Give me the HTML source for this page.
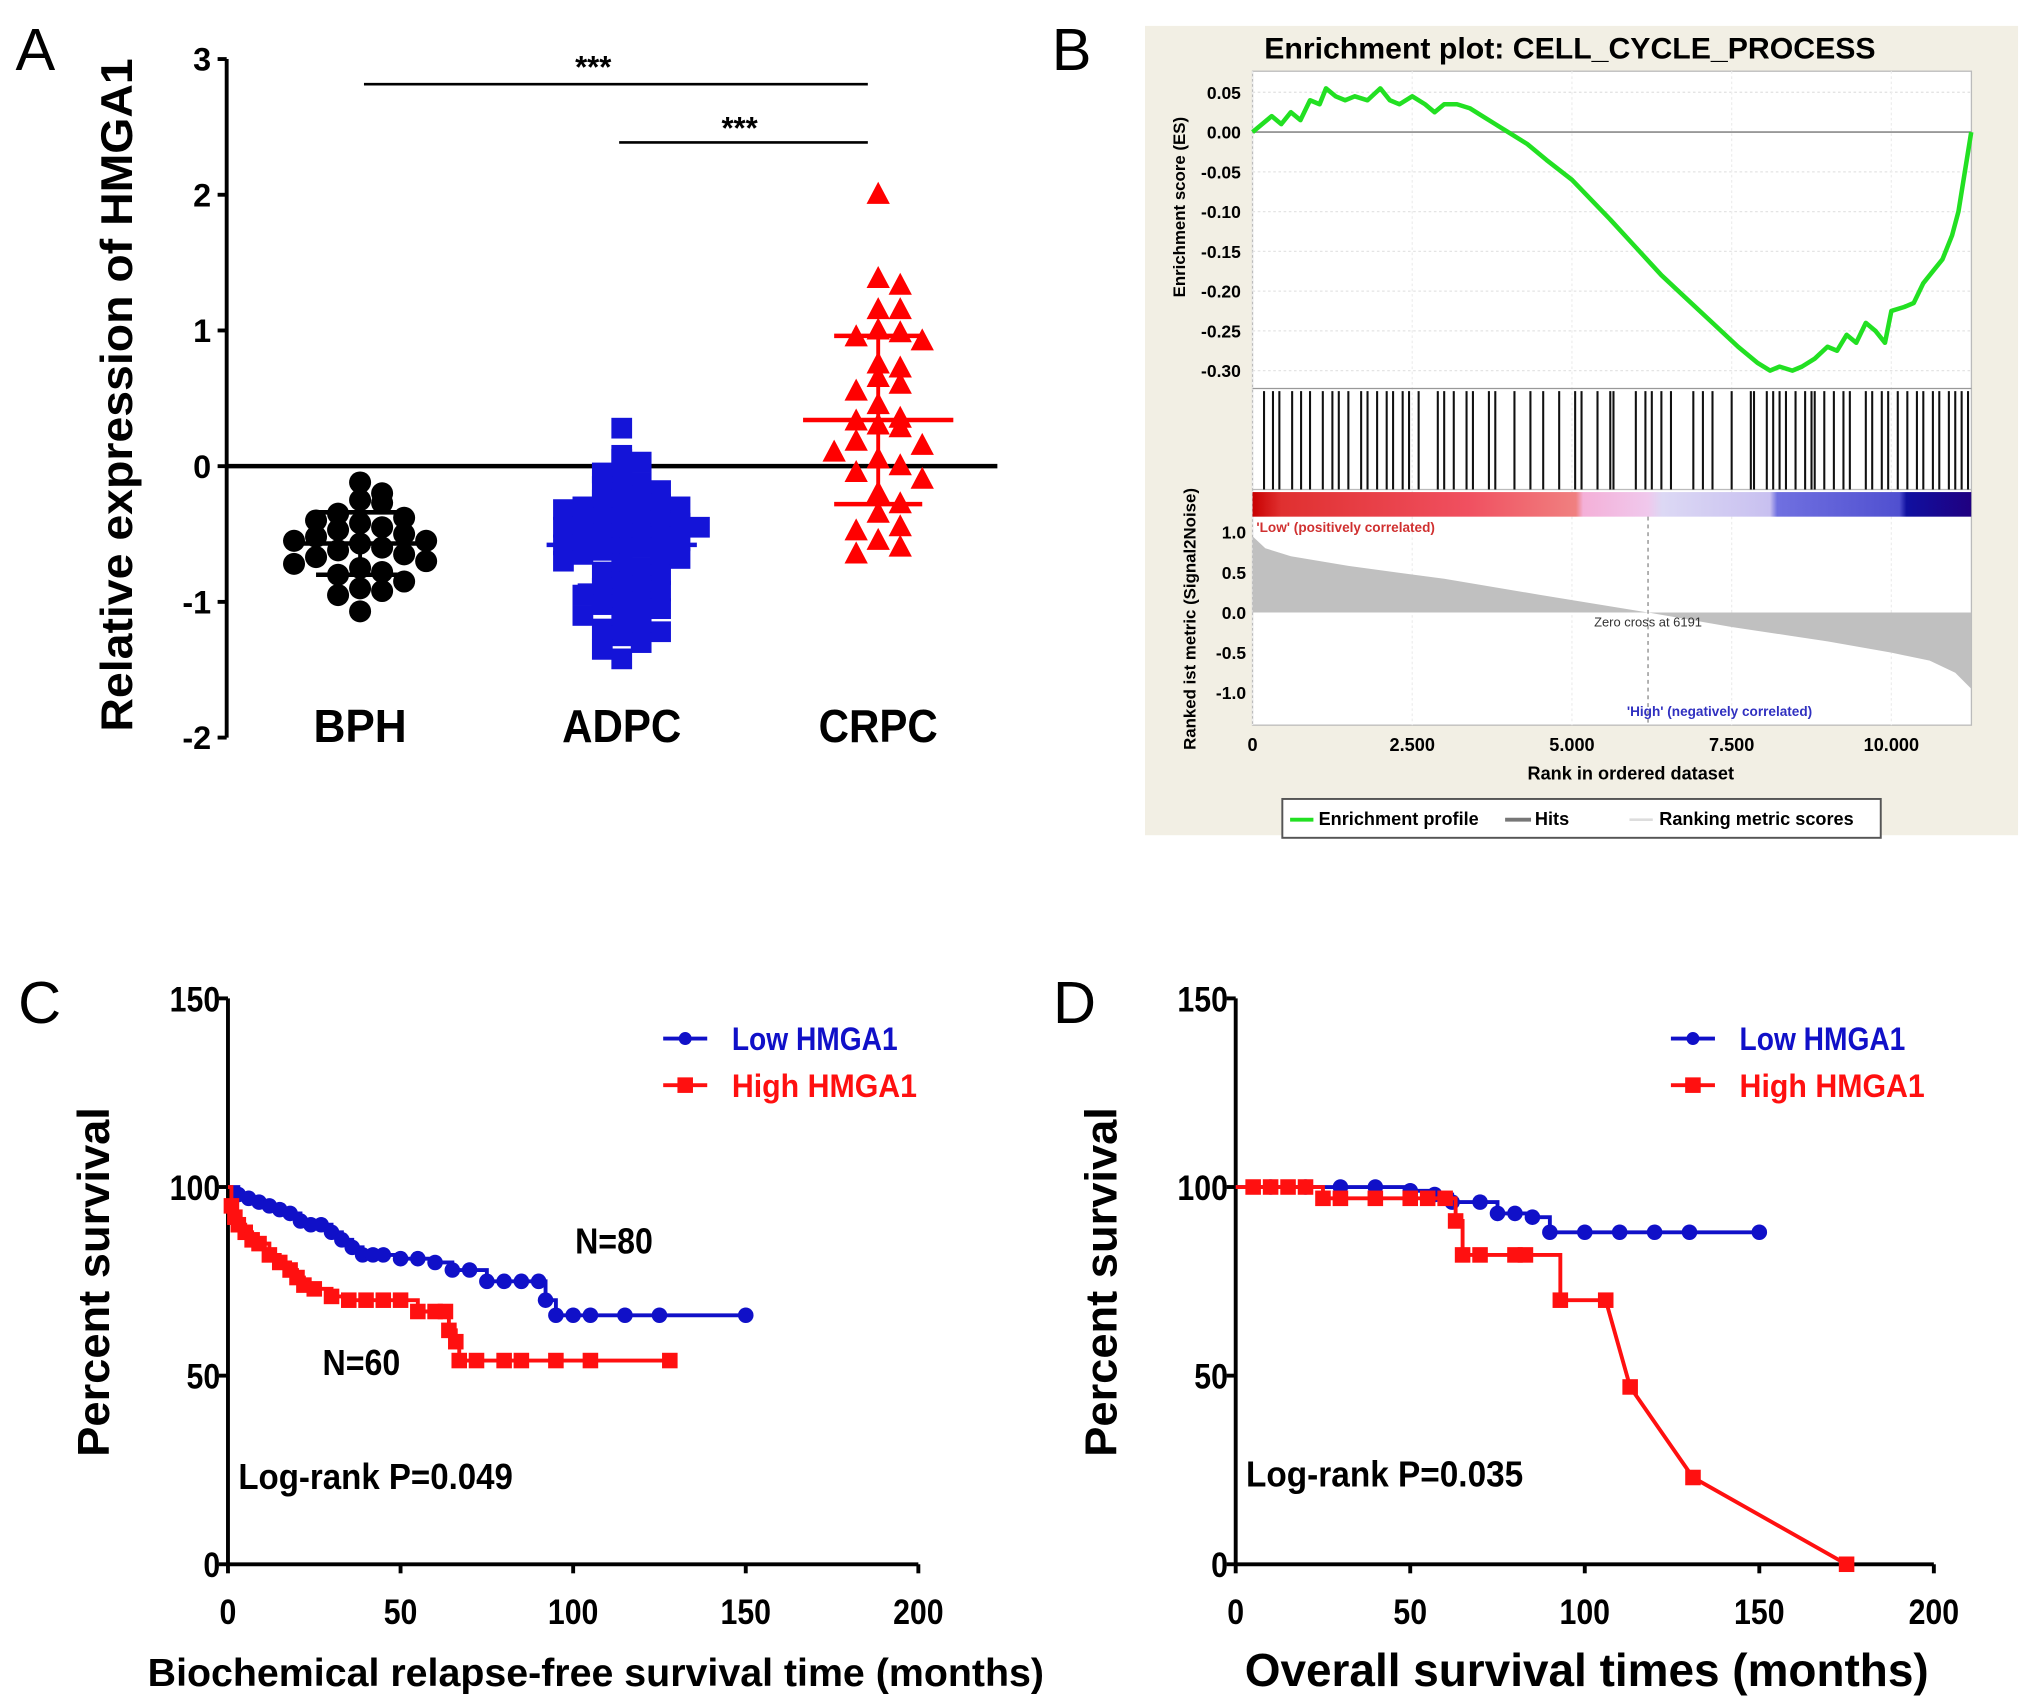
<!DOCTYPE html>
<html><head><meta charset="utf-8"><style>
html,body{margin:0;padding:0;background:#fff}
svg{display:block}
text{font-family:"Liberation Sans",sans-serif;font-weight:bold}
text.plain{font-weight:normal}
</style></head><body>
<svg id="fig" width="2031" height="1708" viewBox="0 0 1568 1319" preserveAspectRatio="none" xmlns="http://www.w3.org/2000/svg">
<defs>
<linearGradient id="cbar" x1="0" x2="1" y1="0" y2="0">
<stop offset="0" stop-color="#c80000"/><stop offset="0.04" stop-color="#e03030"/><stop offset="0.3" stop-color="#f05060"/><stop offset="0.45" stop-color="#f08080"/><stop offset="0.46" stop-color="#f4b0d8"/><stop offset="0.55" stop-color="#f0c8ec"/><stop offset="0.57" stop-color="#dcd8f4"/><stop offset="0.72" stop-color="#c8c0f0"/><stop offset="0.73" stop-color="#7070e0"/><stop offset="0.9" stop-color="#5050d0"/><stop offset="0.91" stop-color="#1010a0"/><stop offset="1" stop-color="#200080"/>
</linearGradient>
</defs>
<g id="pa"></g>
<g id="pb"></g>
<g id="pc"></g>
<g id="pd"></g>
</svg>
<script>
// ---------- Panel A data ----------
const groupNames = ["BPH","ADPC","CRPC"];
const bphValues = [-0.12,-0.2,-0.25,-0.27,-0.35,-0.38,-0.4,-0.42,-0.45,-0.47,-0.5,-0.52,-0.55,-0.55,-0.57,-0.6,-0.62,-0.65,-0.67,-0.7,-0.72,-0.75,-0.78,-0.8,-0.85,-0.9,-0.92,-0.95,-1.07];
const adpcValues = [0.28,0.08,0.05,0.03,-0.05,-0.1,-0.12,-0.15,-0.18,-0.2,-0.22,-0.25,-0.28,-0.3,-0.3,-0.32,-0.35,-0.35,-0.38,-0.4,-0.4,-0.42,-0.45,-0.45,-0.48,-0.5,-0.5,-0.52,-0.55,-0.55,-0.58,-0.6,-0.6,-0.62,-0.65,-0.65,-0.68,-0.7,-0.72,-0.75,-0.78,-0.8,-0.85,-0.88,-0.9,-0.92,-0.95,-0.98,-1.0,-1.02,-1.05,-1.1,-1.12,-1.15,-1.2,-1.22,-1.25,-1.3,-1.35,-1.42];
const crpcValues = [2.0,1.38,1.33,1.15,1.15,1.0,0.98,0.95,0.92,0.75,0.72,0.65,0.6,0.55,0.45,0.35,0.33,0.3,0.28,0.18,0.15,0.1,0.05,0.0,-0.05,-0.1,-0.2,-0.28,-0.35,-0.45,-0.48,-0.55,-0.6,-0.65];
const groupMeans = [-0.57,-0.58,0.34];
const groupSD = [0.23,0.3,0.62];
const aTicks = [3,2,1,0,-1,-2];
// ---------- Panel B data ----------
const esRank = [0,150,300,450,600,750,900,1050,1150,1300,1450,1600,1800,2000,2150,2300,2500,2700,2850,3000,3200,3400,3600,3800,4000,4300,4600,5000,5300,5600,6000,6400,6800,7200,7600,7900,8100,8250,8450,8600,8800,9000,9150,9300,9450,9600,9750,9900,10000,10200,10350,10500,10650,10800,10950,11050,11150,11250];
const esValue = [0,0.01,0.02,0.01,0.025,0.015,0.04,0.035,0.055,0.045,0.04,0.045,0.04,0.055,0.04,0.035,0.045,0.035,0.025,0.035,0.035,0.03,0.02,0.01,0,-0.015,-0.035,-0.06,-0.085,-0.11,-0.145,-0.18,-0.21,-0.24,-0.27,-0.29,-0.3,-0.295,-0.3,-0.295,-0.285,-0.27,-0.275,-0.255,-0.265,-0.24,-0.25,-0.265,-0.225,-0.22,-0.215,-0.19,-0.175,-0.16,-0.13,-0.1,-0.05,0];
const hitRanks = [180,320,420,620,760,900,1100,1250,1350,1500,1700,1800,1950,2100,2200,2350,2450,2600,2900,3000,3150,3350,3450,3700,3800,4100,4350,4550,4800,5050,5150,5400,5600,5650,6000,6150,6250,6400,6550,6900,7050,7200,7500,7800,7850,8050,8150,8250,8350,8500,8650,8750,8800,8950,9100,9250,9350,9600,9700,9850,9950,10100,10250,10400,10500,10650,10750,10900,11000,11100,11200];
const metricRank = [0,200,600,1500,3000,4500,6191,7500,9000,10000,10600,11000,11250];
const metricValue = [0.95,0.8,0.7,0.58,0.42,0.22,0,-0.18,-0.36,-0.5,-0.6,-0.75,-0.95];
const esTicks = [0.05,0,-0.05,-0.1,-0.15,-0.2,-0.25,-0.3];
const esTickLabels = ["0.05","0.00","-0.05","-0.10","-0.15","-0.20","-0.25","-0.30"];
const metricTicks = [1,0.5,0,-0.5,-1];
const metricTickLabels = ["1.0","0.5","0.0","-0.5","-1.0"];
const rankTicks = [0,2500,5000,7500,10000];
const rankTickLabels = ["0","2.500","5.000","7.500","10.000"];
// ---------- Panel C data ----------
const cLowT = [0,3,6,9,12,15,18,21,24,27,30,33,36,39,42,45,50,55,60,65,70,75,80,85,90,92,95,100,105,115,125,150];
const cLowS = [100,98,97,96,95,94,93,91,90,90,88,86,84,82,82,82,81,81,80,78,78,75,75,75,75,70,66,66,66,66,66,66];
const cHighT = [0,1,2,3,5,7,9,12,15,18,20,22,25,30,35,40,45,50,55,60,63,64,66,67,72,80,85,95,105,128];
const cHighS = [100,95,92,90,88,86,85,82,80,78,76,74,73,71,70,70,70,70,67,67,67,62,59,54,54,54,54,54,54,54];
// ---------- Panel D data ----------
const dLowT = [0,10,20,30,40,50,57,62,70,75,80,85,90,100,110,120,130,150];
const dLowS = [100,100,100,100,100,99,98,96,96,93,93,92,88,88,88,88,88,88];
const dHighT = [0,5,10,15,20,25,30,40,50,55,60,63,65,70,80,83,93,106,113,131,175];
const dHighS = [100,100,100,100,100,97,97,97,97,97,97,91,82,82,82,82,70,70,47,23,0];
const kmTicks = [0,50,100,150,200];
const kmYTicks = [0,50,100,150];

const NS="http://www.w3.org/2000/svg";
function mk(parent,tag,attrs,txt){const e=document.createElementNS(NS,tag);for(const k in attrs)e.setAttribute(k,attrs[k]);if(txt!==undefined)e.textContent=txt;parent.appendChild(e);return e;}

// ================= Panel A =================
(function(){
const g=document.getElementById('pa');
const yA=v=>360-v*104.8;
const xA=i=>[278,480,678][i];
let e=mk(g,'text',{x:12,y:54,'font-size':46,class:'plain'},'A');

e=mk(g,'line',{x1:175,y1:yA(3),x2:175,y2:yA(-2),stroke:'#000','stroke-width':3});

aTicks.forEach(t=>{
 mk(g,'line',{x1:168,y1:yA(t),x2:175,y2:yA(t),stroke:'#000','stroke-width':3});
 const tl=mk(g,'text',{x:163,y:yA(t)+9,'font-size':25,'text-anchor':'end'},String(t));
 
});
e=mk(g,'line',{x1:175,y1:yA(0),x2:770,y2:yA(0),stroke:'#000','stroke-width':3.5});

e=mk(g,'text',{x:0,y:0,'font-size':34,'text-anchor':'middle',transform:'translate(102,305) rotate(-90)',textLength:520,lengthAdjust:'spacingAndGlyphs'},'Relative expression of HMGA1');

groupNames.forEach((n,i)=>{
 const t=mk(g,'text',{x:xA(i),y:573,'font-size':36,'text-anchor':'middle',textLength:[72,92,92][i],lengthAdjust:'spacingAndGlyphs'},n);
 
});
e=mk(g,'line',{x1:281,y1:65,x2:670,y2:65,stroke:'#000','stroke-width':2});

e=mk(g,'text',{x:458,y:60,'font-size':24,'text-anchor':'middle'},'***');

e=mk(g,'line',{x1:478,y1:110,x2:670,y2:110,stroke:'#000','stroke-width':2});

e=mk(g,'text',{x:571,y:107,'font-size':24,'text-anchor':'middle'},'***');

const colors=['#000','#1414d8','#ff0000'];
const sets=[bphValues,adpcValues,crpcValues];
const binW=[0.16,0.13,0.2], step=[17,15,17];
sets.forEach((vals,gi)=>{
 const bins={};
 vals.forEach(v=>{
  const b=Math.round(v/binW[gi]);
  const k=bins[b]||0;bins[b]=k+1;
  const off=(k%2?1:-1)*Math.ceil(k/2)*step[gi];
  const cx=xA(gi)+off, cy=yA(v);
  let m;
  if(gi===0) m=mk(g,'circle',{cx:cx,cy:cy,r:8.5,fill:colors[0]});
  else if(gi===1) m=mk(g,'rect',{x:cx-8,y:cy-8,width:16,height:16,fill:colors[1]});
  else m=mk(g,'polygon',{points:`${cx},${cy-10} ${cx-9},${cy+7} ${cx+9},${cy+7}`,fill:colors[2]});
  
  
 });
 const mean=groupMeans[gi],sd=groupSD[gi],c=colors[gi],x=xA(gi);
 let l=mk(g,'line',{x1:x-58,y1:yA(mean),x2:x+58,y2:yA(mean),stroke:c,'stroke-width':3.5});
 
 l=mk(g,'line',{x1:x,y1:yA(mean+sd),x2:x,y2:yA(mean-sd),stroke:c,'stroke-width':3});
 
 [mean+sd,mean-sd].forEach(v=>{const cap=mk(g,'line',{x1:x-34,y1:yA(v),x2:x+34,y2:yA(v),stroke:c,'stroke-width':3.5});
  });
});
})();

// ================= Panel B =================
(function(){
const g=document.getElementById('pb');
let e=mk(g,'text',{x:812,y:54,'font-size':46,class:'plain'},'B');

e=mk(g,'rect',{x:884,y:20,width:674,height:625,fill:'#f2efe4'});

e=mk(g,'text',{x:1212,y:45,'font-size':23,'text-anchor':'middle',textLength:472,lengthAdjust:'spacingAndGlyphs'},'Enrichment plot: CELL_CYCLE_PROCESS');

const X=r=>967+r*123.3/2500;
const Y=v=>102-v*614;
const M=v=>473-v*62;
e=mk(g,'rect',{x:967,y:55,width:555,height:505,fill:'#fff',stroke:'#bbb','stroke-width':1});

esTicks.forEach((t,i)=>{
 mk(g,'line',{x1:967,y1:Y(t),x2:1522,y2:Y(t),stroke:t===0?'#999':'#e4e4e4','stroke-width':t===0?1.5:1,'stroke-dasharray':t===0?'':'2,2'});
 const tl=mk(g,'text',{x:958,y:Y(t)+5,'font-size':13.5,'text-anchor':'end'},esTickLabels[i]);
 
});
rankTicks.forEach((t,i)=>{
 mk(g,'line',{x1:X(t),y1:55,x2:X(t),y2:560,stroke:'#eee','stroke-width':1,'stroke-dasharray':'2,2'});
 const tl=mk(g,'text',{x:X(t),y:580,'font-size':14,'text-anchor':'middle'},rankTickLabels[i]);
 
});
mk(g,'line',{x1:967,y1:300,x2:1522,y2:300,stroke:'#999','stroke-width':1});
mk(g,'line',{x1:967,y1:378,x2:1522,y2:378,stroke:'#bbb','stroke-width':1});
e=mk(g,'text',{x:0,y:0,'font-size':13,'text-anchor':'middle',transform:'translate(915,160) rotate(-90)'},'Enrichment score (ES)');

e=mk(g,'text',{x:0,y:0,'font-size':13,'text-anchor':'middle',transform:'translate(923,478) rotate(-90)'},'Ranked ist metric (Signal2Noise)');

hitRanks.forEach(r=>{const h=mk(g,'line',{x1:X(r),y1:302,x2:X(r),y2:378,stroke:'#111','stroke-width':1.6});
 });
e=mk(g,'rect',{x:967,y:380,width:X(11250)-967,height:19,fill:'url(#cbar)'});

let d=`M${X(metricRank[0])},${M(0)}`;
metricRank.forEach((r,i)=>{d+=` L${X(r)},${M(metricValue[i])}`;});
d+=` L${X(metricRank[metricRank.length-1])},${M(0)} Z`;
e=mk(g,'path',{d:d,fill:'#c0c0c0'});

metricTicks.forEach((t,i)=>{
 const tl=mk(g,'text',{x:962,y:M(t)+5,'font-size':13.5,'text-anchor':'end'},metricTickLabels[i]);
 
});
mk(g,'line',{x1:X(6191),y1:399,x2:X(6191),y2:560,stroke:'#888','stroke-width':1,'stroke-dasharray':'3,3'});
e=mk(g,'text',{x:X(6191),y:484,'font-size':10,class:'plain','text-anchor':'middle',fill:'#333'},'Zero cross at 6191');

e=mk(g,'text',{x:970,y:411,'font-size':10.5,fill:'#d03030'},"'Low' (positively correlated)");

e=mk(g,'text',{x:1256,y:553,'font-size':10.5,fill:'#3030c0'},"'High' (negatively correlated)");

let p='';esRank.forEach((r,i)=>{p+=(i?' L':'M')+X(r)+','+Y(esValue[i]);});
e=mk(g,'path',{d:p,fill:'none',stroke:'#22e022','stroke-width':3.5,'stroke-linejoin':'round'});

e=mk(g,'text',{x:1259,y:602,'font-size':14,'text-anchor':'middle'},'Rank in ordered dataset');

const lg=mk(g,'g',{});
mk(lg,'rect',{x:990,y:617,width:462,height:30,fill:'#fff',stroke:'#555','stroke-width':1.5});
mk(lg,'line',{x1:996,y1:633,x2:1014,y2:633,stroke:'#22e022','stroke-width':3});
mk(lg,'text',{x:1018,y:637,'font-size':14},'Enrichment profile');
mk(lg,'line',{x1:1162,y1:633,x2:1182,y2:633,stroke:'#777','stroke-width':3});
mk(lg,'text',{x:1185,y:637,'font-size':14},'Hits');
mk(lg,'line',{x1:1258,y1:633,x2:1276,y2:633,stroke:'#ddd','stroke-width':2});
mk(lg,'text',{x:1281,y:637,'font-size':14},'Ranking metric scores');
})();

// ================= KM panels =================
function km(gid,x0,xLabel,xLabelSize,xLabelLen,xLabelX,label,labelX,lowT,lowS,highT,highS,diagStart,texts){
 const g=document.getElementById(gid);
 const X=t=>x0+t*(gid==='pc'?533:539)/200;
 const Y=s=>1208-s*437/150;
 let e=mk(g,'text',{x:labelX,y:790,'font-size':46,class:'plain'},label);
 
 e=mk(g,'line',{x1:x0,y1:Y(150),x2:x0,y2:Y(0),stroke:'#000','stroke-width':3});
 
 e=mk(g,'line',{x1:x0,y1:Y(0),x2:X(200),y2:Y(0),stroke:'#000','stroke-width':3});
 
 kmYTicks.forEach(t=>{mk(g,'line',{x1:x0-7,y1:Y(t),x2:x0,y2:Y(t),stroke:'#000','stroke-width':3});
  const tl=mk(g,'text',{x:x0-6,y:Y(t)+10,'font-size':27,'text-anchor':'end',textLength:String(t).length*13,lengthAdjust:'spacingAndGlyphs'},String(t));
  });
 kmTicks.forEach(t=>{mk(g,'line',{x1:X(t),y1:Y(0),x2:X(t),y2:Y(0)+7,stroke:'#000','stroke-width':3});
  const tl=mk(g,'text',{x:X(t),y:1254,'font-size':27,'text-anchor':'middle',textLength:String(t).length*13,lengthAdjust:'spacingAndGlyphs'},String(t));
  });
 e=mk(g,'text',{x:0,y:0,'font-size':34,'text-anchor':'middle',transform:`translate(${x0-92},990) rotate(-90)`,textLength:270,lengthAdjust:'spacingAndGlyphs'},'Percent survival');
 
 e=mk(g,'text',{x:xLabelX,y:1302,'font-size':xLabelSize,'text-anchor':'middle',textLength:xLabelLen,lengthAdjust:'spacingAndGlyphs'},xLabel);
 
 function curve(T,S,col,name,isSquare,diag){
  let d='M'+X(T[0])+','+Y(S[0]);
  for(let i=1;i<T.length;i++){
   if(diag!==null && i>=diag) d+=' L'+X(T[i])+','+Y(S[i]);
   else d+=' L'+X(T[i])+','+Y(S[i-1])+' L'+X(T[i])+','+Y(S[i]);
  }
  const p=mk(g,'path',{d:d,fill:'none',stroke:col,'stroke-width':3});
  
  T.forEach((t,i)=>{if(i===0)return;let m;
   if(isSquare) m=mk(g,'rect',{x:X(t)-6,y:Y(S[i])-6,width:12,height:12,fill:col});
   else m=mk(g,'circle',{cx:X(t),cy:Y(S[i]),r:6,fill:col});
   });
 }
 curve(lowT,lowS,'#1010c8','low-hmga1',false,null);
 curve(highT,highS,'#ff1010','high-hmga1',true,diagStart);
 const lx=x0+336;
 const lg=mk(g,'g',{});
 mk(lg,'line',{x1:lx,y1:802,x2:lx+34,y2:802,stroke:'#1010c8','stroke-width':3});
 mk(lg,'circle',{cx:lx+17,cy:802,r:5,fill:'#1010c8'});
 mk(lg,'text',{x:lx+53,y:811,'font-size':25,fill:'#1010c8',textLength:128,lengthAdjust:'spacingAndGlyphs'},'Low HMGA1');
 mk(lg,'line',{x1:lx,y1:838,x2:lx+34,y2:838,stroke:'#ff1010','stroke-width':3});
 mk(lg,'rect',{x:lx+11,y:832,width:12,height:12,fill:'#ff1010'});
 mk(lg,'text',{x:lx+53,y:847,'font-size':25,fill:'#ff1010',textLength:143,lengthAdjust:'spacingAndGlyphs'},'High HMGA1');
 texts.forEach(t=>{const tt=mk(g,'text',{x:t[0],y:t[1],'font-size':28,textLength:t[3],lengthAdjust:'spacingAndGlyphs'},t[2]);
  });
}
km('pc',176,'Biochemical relapse-free survival time (months)',30,692,460,'C',14,cLowT,cLowS,cHighT,cHighS,null,
 [[184,1150,'Log-rank P=0.049',212,'log-rank-text'],[444,968,'N=80',60,'n-low-label'],[249,1062,'N=60',60,'n-high-label']]);
km('pd',954,'Overall survival times (months)',36,528,1225,'D',813,dLowT,dLowS,dHighT,dHighS,17,
 [[962,1148,'Log-rank P=0.035',214,'log-rank-text']]);
</script>
</body></html>
